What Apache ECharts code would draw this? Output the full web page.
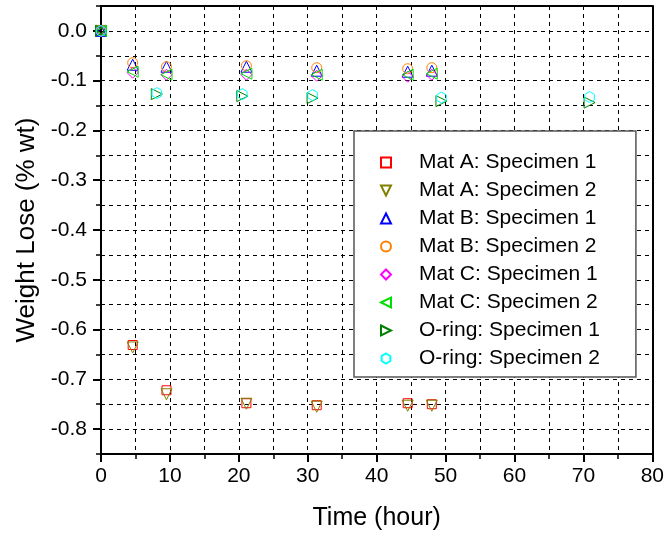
<!DOCTYPE html>
<html>
<head>
<meta charset="utf-8">
<script src="https://cdn.jsdelivr.net/npm/echarts@6/dist/echarts.min.js"></script>
<style>html,body{margin:0;padding:0;background:#fff}#c{width:667px;height:536px}</style>
</head>
<body>
<div id="c"></div>
<script>
// Times (hour)
const matTimes = [0, 4.6, 9.5, 21.1, 31.3, 44.5, 48.0];
const oringTimes = [0, 8.1, 20.5, 30.7, 49.4, 70.9];
// Weight loss (% wt)
const matA1 = [0, -0.631, -0.722, -0.748, -0.752, -0.748, -0.750];
const matA2 = [0, -0.636, -0.730, -0.749, -0.755, -0.753, -0.753];
const matB1 = [0, -0.068, -0.072, -0.072, -0.080, -0.082, -0.080];
const matB2 = [0, -0.064, -0.072, -0.070, -0.074, -0.076, -0.074];
const matC1 = [0, -0.084, -0.088, -0.088, -0.090, -0.092, -0.088];
const matC2 = [0, -0.082, -0.088, -0.086, -0.088, -0.088, -0.086];
const oring1 = [0, -0.127, -0.131, -0.135, -0.141, -0.144];
const oring2 = [0, -0.125, -0.127, -0.129, -0.134, -0.133];
const seriesNames = ['Mat A: Specimen 1','Mat A: Specimen 2','Mat B: Specimen 1','Mat B: Specimen 2','Mat C: Specimen 1','Mat C: Specimen 2','O-ring: Specimen 1','O-ring: Specimen 2'];
const yMajorTicks = [-0.8,-0.7,-0.6,-0.5,-0.4,-0.3,-0.2,-0.1,0];

const SQ = 'path://M-1,-1L1,-1L1,1L-1,1Z';
const TRI_UP = 'path://M0,-1L1,1L-1,1Z';
const TRI_DOWN = 'path://M-1,-1L1,-1L0,1Z';
const TRI_LEFT = 'path://M-1,0L1,-1L1,1Z';
const TRI_RIGHT = 'path://M-1,-1L1,0L-1,1Z';
const DIAM = 'path://M0,-1L1,0L0,1L-1,0Z';
const HEX = 'path://M0,-1L0.866,-0.5L0.866,0.5L0,1L-0.866,0.5L-0.866,-0.5Z';
const styles = [
  {color:'#FF0000', symbol:SQ, size:9},
  {color:'#808000', symbol:TRI_DOWN, size:11},
  {color:'#0000FF', symbol:TRI_UP, size:11},
  {color:'#FF8000', symbol:'circle', size:10},
  {color:'#FF00FF', symbol:DIAM, size:11},
  {color:'#00E000', symbol:TRI_LEFT, size:11},
  {color:'#008000', symbol:TRI_RIGHT, size:11},
  {color:'#00FFFF', symbol:HEX, size:11}
];
const dataSets = [
  [matTimes, matA1],[matTimes, matA2],[matTimes, matB1],[matTimes, matB2],
  [matTimes, matC1],[matTimes, matC2],[oringTimes, oring1],[oringTimes, oring2]
];
const FONT = 'Liberation Sans, Arial, sans-serif';
const series = dataSets.map((d, i) => ({
  name: seriesNames[i],
  type: 'scatter',
  data: d[0].map((t, k) => [t, d[1][k]]),
  symbol: styles[i].symbol,
  symbolSize: styles[i].size,
  symbolKeepAspect: true,
  itemStyle: {color: 'rgba(0,0,0,0)', borderColor: styles[i].color, borderWidth: 1, opacity: 1},
  emphasis: {disabled: true},
  z: 3 + i
}));

const chart = echarts.init(document.getElementById('c'), null, {renderer: 'canvas'});
chart.setOption({
  animation: false,
  backgroundColor: '#fff',
  grid: {left: 101, right: 13, top: 6, bottom: 81, show: false},
  xAxis: [{
    type: 'value', min: 0, max: 80, interval: 10,
    name: 'Time (hour)', nameLocation: 'middle', nameGap: 52,
    nameTextStyle: {fontFamily: FONT, fontSize: 25, color: '#000'},
    axisLine: {show: true, onZero: false, lineStyle: {color: '#000', width: 2}},
    axisTick: {show: true, inside: false, length: 8, lineStyle: {color: '#000', width: 2}},
    minorTick: {show: true, splitNumber: 2, length: 5, lineStyle: {color: '#000', width: 1.5}},
    axisLabel: {fontFamily: FONT, fontSize: 21, color: '#000', margin: 12},
    splitLine: {show: true, lineStyle: {color: '#000', type: [4, 4], width: 1}},
    minorSplitLine: {show: true, lineStyle: {color: '#000', type: [4, 4], width: 1}}
  }, {
    type: 'value', min: 0, max: 80, interval: 10, position: 'top',
    axisLine: {show: true, onZero: false, lineStyle: {color: '#000', width: 2}},
    axisTick: {show: false}, axisLabel: {show: false}, splitLine: {show: false}
  }],
  yAxis: [{
    type: 'value', min: -0.85, max: 0.05, interval: 0.05,
    name: 'Weight Lose (% wt)', nameLocation: 'middle', nameGap: 60,
    nameTextStyle: {fontFamily: FONT, fontSize: 26, color: '#000'},
    axisLine: {show: true, onZero: false, lineStyle: {color: '#000', width: 2}},
    axisTick: {show: true, inside: false, length: 5, lineStyle: {color: '#000', width: 1.5}},
    axisLabel: {fontFamily: FONT, fontSize: 21, color: '#000', margin: 14,
      formatter: v => {
        const n = Math.round(v * 20);
        if (n % 2 !== 0) return '';
        return (n / 20).toFixed(1);
      }},
    splitLine: {show: true, lineStyle: {color: '#000', type: [4, 4], width: 1}}
  }, {
    type: 'value', min: -0.85, max: 0.05, position: 'left', interval: 0.05,
    axisLine: {show: false, onZero: false},
    axisTick: {show: true, inside: false, length: 8, customValues: yMajorTicks, lineStyle: {color: '#000', width: 2}},
    axisLabel: {show: false},
    splitLine: {show: false}
  }, {
    type: 'value', min: -0.85, max: 0.05, position: 'right', interval: 0.05,
    axisLine: {show: true, onZero: false, lineStyle: {color: '#000', width: 2}},
    axisTick: {show: false}, axisLabel: {show: false}, splitLine: {show: false}
  }],
  legend: {
    orient: 'vertical', left: 354, top: 131,
    padding: [21, 36, 8, 26],
    itemWidth: 10, itemHeight: 10, itemGap: 7,
    backgroundColor: '#fff', borderColor: '#555', borderWidth: 1.5,
    textStyle: {fontFamily: FONT, fontSize: 21, color: '#000', lineHeight: 21, padding: [0, 0, 0, 23]},
    data: seriesNames,
    selectedMode: false
  },
  series: series
});
</script>
</body>
</html>
